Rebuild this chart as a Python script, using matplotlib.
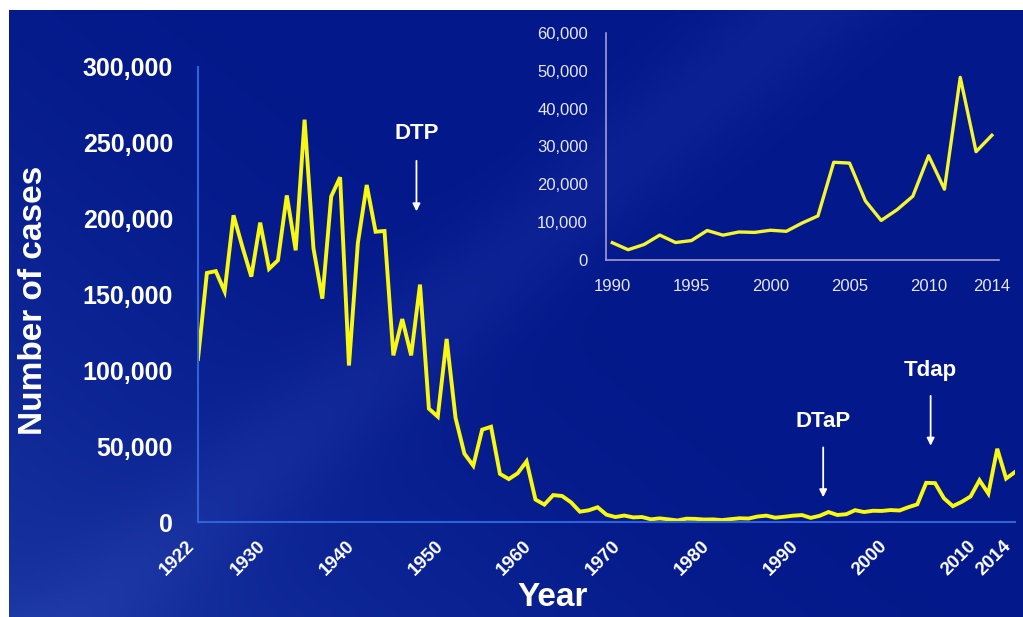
import numpy as np
import matplotlib.pyplot as plt
from matplotlib.ticker import FixedLocator

# --- dados: casos de coqueluche por ano (EUA) ---
anos = np.arange(1922, 2015)
casos = [
    107473, 164191, 165418, 152003, 202210, 181411, 161799, 197371, 166914, 172559,
    215343, 179135, 265269, 180518, 147237, 214652, 227319, 103188, 183866, 222202,
    191383, 191890, 109873, 133792, 109860, 156517, 74715, 69479, 120718, 68687,
    45030, 37129, 60886, 62786, 31732, 28295, 32148, 40005, 14809, 11468,
    17749, 17135, 13005, 6799, 7717, 9718, 4810, 3285, 4249, 3036,
    3287, 1759, 2402, 1738, 1010, 2177, 2063, 1623, 1730, 1248,
    1895, 2463, 2276, 3589, 4195, 2823, 3450, 4157, 4570, 2719,
    4083, 6586, 4617, 5137, 7796, 6564, 7405, 7298, 7867, 7580,
    9771, 11647, 25827, 25616, 15632, 10454, 13278, 16858, 27550, 18719,
    48277, 28639, 32971,
]

# detalhe 1990-2014
anos_zoom = np.arange(1990, 2015)
casos_zoom = casos[1990 - 1922:]

ticks_x = [1922, 1930, 1940, 1950, 1960, 1970, 1980, 1990, 2000, 2010, 2014]
ticks_y = [0, 50000, 100000, 150000, 200000, 250000, 300000]
rotulos_y = ['0', '50,000', '100,000', '150,000', '200,000', '250,000', '300,000']
ticks_x_zoom = [1990, 1995, 2000, 2005, 2010, 2014]
ticks_y_zoom = [0, 10000, 20000, 30000, 40000, 50000, 60000]
rotulos_y_zoom = ['0', '10,000', '20,000', '30,000', '40,000', '50,000', '60,000']

# vacinas: nome, ano, y do texto, y inicio e fim da seta
vacinas = ['DTP', 'DTaP', 'Tdap']
vacina_ano = [1946.6, 1992.4, 2004.5]
vacina_texto_y = [256000, 66000, 100000]
vacina_seta_ini = [240000, 51000, 85000]
vacina_seta_fim = [203000, 14500, 48500]

plt.rcParams['font.family'] = ['Liberation Sans', 'DejaVu Sans']

fig = plt.figure(figsize=(10.23, 6.17), dpi=100)
fig.patch.set_facecolor('white')

# fundo azul em degradê (borda branca em cima e à esquerda)
ax_fundo = fig.add_axes([9 / 1023, 0, 1 - 9 / 1023, 1 - 10 / 617])
ny, nx = 200, 330
yy, xx = np.mgrid[0:1:ny * 1j, 0:1:nx * 1j]
t = np.clip(1.0 - (xx * 1.2 + (1 - yy) * 0.9) / 1.3, 0, 1)
faixa = 0.035 * np.exp(-((xx * 0.7 - (1 - yy) * 0.5 - 0.05) / 0.06) ** 2)
escuro = np.array([3, 24, 138]) / 255
claro = np.array([24, 52, 160]) / 255
img = escuro + (claro - escuro) * (t ** 1.8)[..., None] + faixa[..., None]
ax_fundo.imshow(np.clip(img, 0, 1), aspect='auto', origin='upper', extent=[0, 1, 0, 1])
ax_fundo.axis('off')

# --- gráfico principal ---
ax = fig.add_axes([198 / 1023, 95 / 617, (1015 - 198) / 1023, (550 - 95) / 617])
ax.set_facecolor('none')
ax.plot(anos, casos, color='#f8f810', lw=2.8, solid_joinstyle='miter')
ax.set_xlim(1922, 2014)
ax.set_ylim(0, 300000)
for lado in ['top', 'right']:
    ax.spines[lado].set_visible(False)
for lado in ['left', 'bottom']:
    ax.spines[lado].set_color('#2f62d8')
    ax.spines[lado].set_linewidth(1.5)
ax.xaxis.set_major_locator(FixedLocator(ticks_x))
ax.set_xticklabels([str(a) for a in ticks_x], rotation=45, ha='right',
                   fontsize=13.5, fontweight='bold', color='white')
for rot in ax.get_xticklabels():
    rot.set_x(0)
ax.yaxis.set_major_locator(FixedLocator(ticks_y))
ax.set_yticklabels(rotulos_y, fontsize=18, fontweight='bold', color='white')
ax.tick_params(axis='x', length=0, pad=11)
ax.tick_params(axis='y', length=0, pad=18)

for nome, x, ty, y0, y1 in zip(vacinas, vacina_ano, vacina_texto_y, vacina_seta_ini, vacina_seta_fim):
    ax.text(x, ty, nome, ha='center', va='center', fontsize=16, fontweight='bold', color='white')
    ax.annotate('', xy=(x, y1), xytext=(x, y0),
                arrowprops=dict(arrowstyle='-|>', color='white', lw=1.3, mutation_scale=11))

fig.text(553 / 1023, 1 - 597 / 617, 'Year', ha='center', va='center',
         fontsize=24, fontweight='bold', color='white')
fig.text(34 / 1023, 1 - 300 / 617, 'Number of cases', ha='center', va='center',
         rotation=90, fontsize=24, fontweight='bold', color='white')

# --- detalhe 1990-2014 ---
axz = fig.add_axes([606 / 1023, 357 / 617, (999 - 606) / 1023, (584 - 357) / 617])
axz.set_facecolor('none')
axz.plot(anos_zoom, casos_zoom, color='#f5f530', lw=2.4)
axz.set_xlim(1989.6, 2014.45)
axz.set_ylim(0, 60000)
for lado in ['top', 'right']:
    axz.spines[lado].set_visible(False)
for lado in ['left', 'bottom']:
    axz.spines[lado].set_color('#a59ad0')
    axz.spines[lado].set_linewidth(1.2)
axz.xaxis.set_major_locator(FixedLocator(ticks_x_zoom))
axz.set_xticklabels([str(a) for a in ticks_x_zoom], fontsize=12, color='#e6e6f5')
axz.yaxis.set_major_locator(FixedLocator(ticks_y_zoom))
axz.set_yticklabels(rotulos_y_zoom, fontsize=12, color='#e6e6f5')
axz.tick_params(axis='x', length=0, pad=14)
axz.tick_params(axis='y', length=0, pad=13)

fig.savefig('out.png', dpi=100, facecolor=fig.get_facecolor())
